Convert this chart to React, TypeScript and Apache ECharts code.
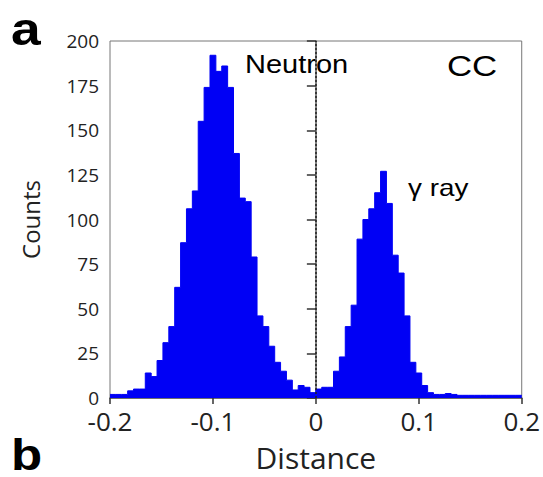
import React, { useEffect, useRef } from "react";
import * as echarts from "echarts";

// Histogram: 70 equal bins spanning the x range
const binStart = -0.2;
const binEnd = 0.2;
const counts = [
  2, 2, 2, 4, 5, 5, 14, 12, 21, 31,
  40, 62, 87, 106, 116, 155, 174, 192, 183, 186,
  174, 137, 112, 110, 79, 46, 40, 29, 20, 15,
  10, 4.5, 7, 6, 3, 5, 6, 6, 15, 23,
  40, 52, 89, 100, 106, 115, 127, 109, 80, 70,
  46, 20, 14, 7, 3, 2, 2, 2.5, 2, 1.5,
  1.5, 1.5, 1.5, 1.5, 1.5, 1.5, 1.5, 1.5, 1.5, 1.5,
];
const xTicks = [-0.2, -0.1, 0, 0.1, 0.2];
const yTicks = [0, 25, 50, 75, 100, 125, 150, 175, 200];
const dividerX = 0;
const xTitle = "Distance";
const yTitle = "Counts";
const panelLabels = ["a", "b"];
const annotations = ["Neutron", "CC", "γ ray"];

const BLUE = "#0000f5";
const TXT = "#222";

export default function App() {
  const ref = useRef<HTMLDivElement>(null);
  useEffect(() => {
    if (!ref.current) return;
    const chart = echarts.init(ref.current, null, { renderer: "svg" });
    const w = (binEnd - binStart) / counts.length;
    const stepData: number[][] = counts.map((c, i) => [binStart + i * w, c]);
    stepData.push([binEnd, counts[counts.length - 1]]);
    const xInt = xTicks[1] - xTicks[0];
    const yInt = yTicks[1] - yTicks[0];

    chart.setOption({
      animation: false,
      backgroundColor: "#fff",
      grid: {
        left: 110,
        right: 19,
        top: 41,
        bottom: 78,
        show: true,
        borderColor: "#777",
        borderWidth: 1,
      },
      xAxis: {
        type: "value",
        min: xTicks[0],
        max: xTicks[xTicks.length - 1],
        interval: xInt,
        splitLine: { show: false },
        axisLine: { show: true, lineStyle: { color: "#555", width: 1.5 } },
        axisTick: { show: true, length: 6, lineStyle: { color: "#333", width: 1.5 } },
        axisLabel: {
          fontSize: 26,
          lineHeight: 20,
          fontFamily: "Open Sans",
          color: TXT,
          margin: 13,
          showMinLabel: true,
          showMaxLabel: true,
        },
        name: xTitle,
        nameLocation: "middle",
        nameGap: 47,
        nameTextStyle: { fontSize: 30, lineHeight: 24, fontFamily: "Open Sans", color: TXT },
      },
      yAxis: {
        type: "value",
        min: yTicks[0],
        max: yTicks[yTicks.length - 1],
        interval: yInt,
        splitLine: { show: false },
        axisLine: { show: true, lineStyle: { color: "#555", width: 1.5 } },
        axisTick: { show: true, length: 9, lineStyle: { color: "#333", width: 1.5 } },
        axisLabel: {
          fontSize: 19,
          lineHeight: 15,
          fontFamily: "Open Sans",
          color: TXT,
          margin: 11,
        },
        name: yTitle,
        nameLocation: "middle",
        nameGap: 68,
        nameTextStyle: { fontSize: 24, fontFamily: "Open Sans", color: TXT },
      },
      series: [
        {
          type: "line",
          step: "end",
          symbol: "none",
          data: stepData,
          lineStyle: { width: 1, color: BLUE },
          areaStyle: { color: BLUE, opacity: 1 },
          markLine: {
            silent: true,
            symbol: ["none", "none"],
            label: { show: false },
            lineStyle: { type: [2, 2], color: "#222", width: 1.5 },
            data: [{ xAxis: dividerX }],
          },
        },
      ],
      graphic: [
        {
          type: "text",
          x: 11,
          y: 29,
          scaleX: 1.16,
          style: {
            text: panelLabels[0],
            fontSize: 46,
            fontWeight: "bold",
            fontFamily: "Liberation Sans",
            fill: "#000",
            align: "left",
            verticalAlign: "middle",
          },
        },
        {
          type: "text",
          x: 11,
          y: 455,
          scaleX: 1.16,
          style: {
            text: panelLabels[1],
            fontSize: 44,
            lineHeight: 34,
            fontWeight: "bold",
            fontFamily: "Liberation Sans",
            fill: "#000",
            align: "left",
            verticalAlign: "middle",
          },
        },
        {
          type: "text",
          x: 245,
          y: 64,
          scaleX: 1.16,
          style: {
            text: annotations[0],
            fontSize: 25,
            fontFamily: "Liberation Sans",
            fill: "#000",
            align: "left",
            verticalAlign: "middle",
          },
        },
        {
          type: "text",
          x: 447,
          y: 66,
          scaleX: 1.16,
          style: {
            text: annotations[1],
            fontSize: 30,
            fontFamily: "Liberation Sans",
            fill: "#000",
            align: "left",
            verticalAlign: "middle",
          },
        },
        {
          type: "text",
          x: 408,
          y: 188,
          scaleX: 1.16,
          style: {
            text: annotations[2],
            fontSize: 24,
            fontFamily: "Liberation Sans",
            fill: "#000",
            align: "left",
            verticalAlign: "middle",
          },
        },
      ],
    });
    return () => chart.dispose();
  }, []);
  return (
    <div
      ref={ref}
      style={{ position: "fixed", left: 0, top: 0, width: 543, height: 477, background: "#fff" }}
    />
  );
}
